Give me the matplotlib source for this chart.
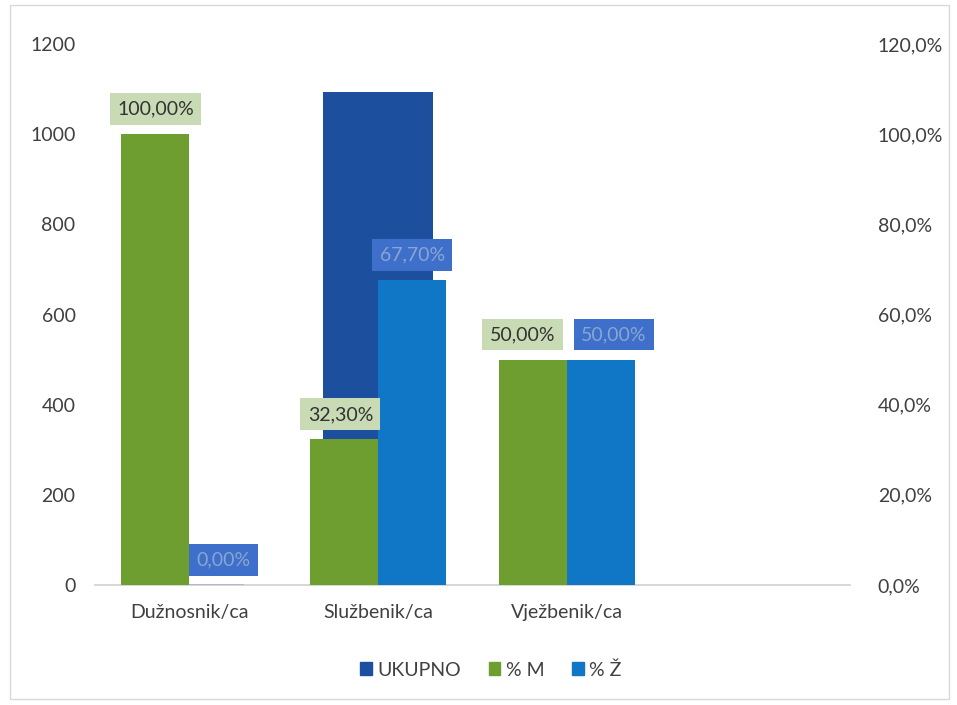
import matplotlib
matplotlib.use("Agg")
import matplotlib.pyplot as plt
from matplotlib.patches import Rectangle, Patch
import numpy as np

categories = ['Dužnosnik/ca', 'Službenik/ca', 'Vježbenik/ca', '']
ukupno = [3, 1093, 2, 0]
pct_m = [100.0, 32.3, 50.0, np.nan]
pct_z = [0.0, 67.7, 50.0, np.nan]
left_ticks = [0, 200, 400, 600, 800, 1000, 1200]
right_ticks = [0, 20, 40, 60, 80, 100, 120]

C_UK = '#1d4f9f'
C_M = '#6e9e2f'
C_Z = '#0f77c6'
BG_M = '#c9dbb5'
BG_Z = '#3d6fcb'
TXT = '#404040'
FS = 14

plt.rcParams['font.family'] = ['Lato', 'DejaVu Sans']

fig = plt.figure(figsize=(9.57, 7.05), dpi=100)
ax = fig.add_axes([0.0993, 0.1702, 0.7889, 0.7674])
ax2 = ax.twinx()

x = np.arange(len(categories))
w_uk = 0.58
w = 0.36

ax.bar(x, ukupno, width=w_uk, color=C_UK, zorder=2)
ax.set_ylim(0, 1200)
ax.set_xlim(-0.5, len(categories) - 0.5)
ax.set_yticks(left_ticks)
ax.set_yticklabels([str(t) for t in left_ticks])

ax2.bar(x - w / 2, pct_m, width=w, color=C_M, zorder=3)
ax2.bar(x + w / 2, pct_z, width=w, color=C_Z, zorder=3)
ax2.set_ylim(0, 120)
ax2.set_yticks(right_ticks)
ax2.set_yticklabels([f"{t:.1f}%".replace('.', ',') for t in right_ticks])

for a in (ax, ax2):
    for s in a.spines.values():
        s.set_visible(False)
    a.tick_params(length=0, labelsize=FS, colors=TXT)
ax.spines['bottom'].set_visible(True)
ax.spines['bottom'].set_color('#d0d0d0')
ax.spines['bottom'].set_linewidth(1.2)
ax.set_xticks(x)
ax.set_xticklabels(categories, fontsize=FS, color=TXT)
ax.tick_params(axis='x', pad=14)
ax.tick_params(axis='y', pad=14)
ax2.tick_params(axis='y', pad=20)

dx_m = [0, -0.02, -0.055, 0]
dx_z = [0, 0, 0.07, 0]
for i in range(len(categories)):
    if not np.isnan(pct_m[i]):
        ax2.annotate(f"{pct_m[i]:.2f}%".replace('.', ','),
                     (x[i] - w / 2 + dx_m[i], pct_m[i]), xytext=(0, 18),
                     textcoords='offset points', ha='center', va='center',
                     fontsize=FS, color='#333333', zorder=5,
                     bbox=dict(boxstyle='square,pad=0.38', fc=BG_M, ec='none'))
    if not np.isnan(pct_z[i]):
        ax2.annotate(f"{pct_z[i]:.2f}%".replace('.', ','),
                     (x[i] + w / 2 + dx_z[i], pct_z[i]), xytext=(0, 18),
                     textcoords='offset points', ha='center', va='center',
                     fontsize=FS, color='#8aa6cf', zorder=5,
                     bbox=dict(boxstyle='square,pad=0.38', fc=BG_Z, ec='none'))

handles = [Patch(color=C_UK, label='UKUPNO'), Patch(color=C_M, label='% M'),
           Patch(color=C_Z, label='% Ž')]
fig.legend(handles=handles, loc='center', bbox_to_anchor=(0.513, 0.05), ncol=3,
           frameon=False, fontsize=FS, handlelength=0.6, handleheight=0.6,
           handletextpad=0.3, columnspacing=1.4, labelcolor=TXT)

fig.patches.append(Rectangle((0.01, 0.008), 0.982, 0.985, transform=fig.transFigure,
                             fill=False, ec='#d8d8d8', lw=1))

fig.savefig('out.png', dpi=100)
